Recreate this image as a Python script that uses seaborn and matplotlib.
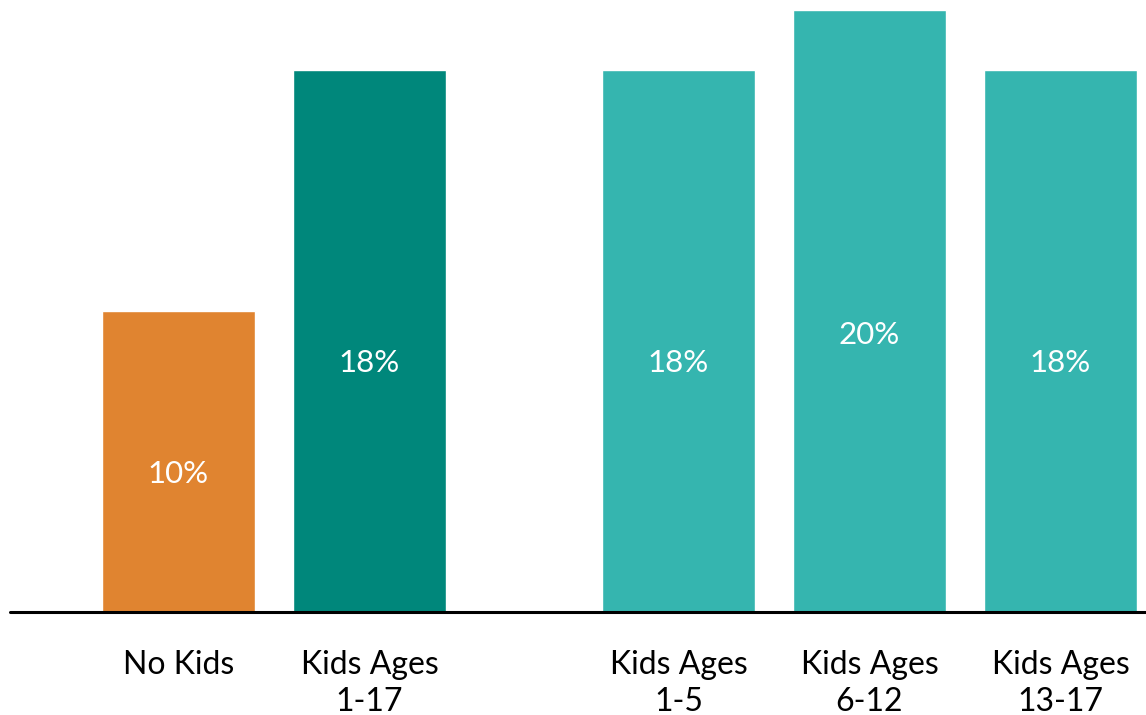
import numpy as np
import pandas as pd
from matplotlib import pyplot as plt
from matplotlib.lines import Line2D
import seaborn as sns

# left group
left_labels = ['No Kids', 'Kids Ages\n1-17']
left_values = [10, 18]
left_colors = ['#E08430', '#00877B']

# right group
right_labels = ['Kids Ages\n1-5', 'Kids Ages\n6-12', 'Kids Ages\n13-17']
right_values = [18, 20, 18]
right_colors = ['#35B5AF', '#35B5AF', '#35B5AF']

sns.set_theme(style='white')
plt.rcParams['font.family'] = ['Lato', 'DejaVu Sans']

fig = plt.figure(figsize=(11.46, 7.15), dpi=100)
ax_l = fig.add_axes([10 / 1146, 103 / 715, 514 / 1146, 612 / 715])
ax_r = fig.add_axes([524 / 1146, 103 / 715, 622 / 1146, 612 / 715])


def draw(ax, labels, values, colors, xlim):
    df = pd.DataFrame({'group': labels, 'share': values})
    sns.barplot(data=df, x='group', y='share', hue='group',
                palette=dict(zip(labels, colors)), width=0.8,
                saturation=1, legend=False, ax=ax)
    for i, v in enumerate(values):
        ax.text(i, v * 0.46, f'{v}%', color='white', ha='center',
                va='center', fontsize=22.5)
    ax.set_xlim(*xlim)
    ax.set_ylim(0, 20.33)
    ax.set(xlabel='', ylabel='', yticks=[])
    ax.tick_params(axis='x', length=0, pad=27, labelsize=23,
                   labelcolor='black')
    for lab in ax.get_xticklabels():
        lab.set_linespacing(1.3)
    sns.despine(ax=ax, left=True, bottom=True)
    ax.patch.set_alpha(0)


draw(ax_l, left_labels, left_values, left_colors, (-0.882, 1.809))
draw(ax_r, right_labels, right_values, right_colors, (-0.809, 2.448))

# baseline across both groups
fig.add_artist(Line2D([10 / 1146, 1.0], [103 / 715, 103 / 715],
                      color='black', linewidth=2.2,
                      transform=fig.transFigure))

plt.savefig('out.png', dpi=100)
